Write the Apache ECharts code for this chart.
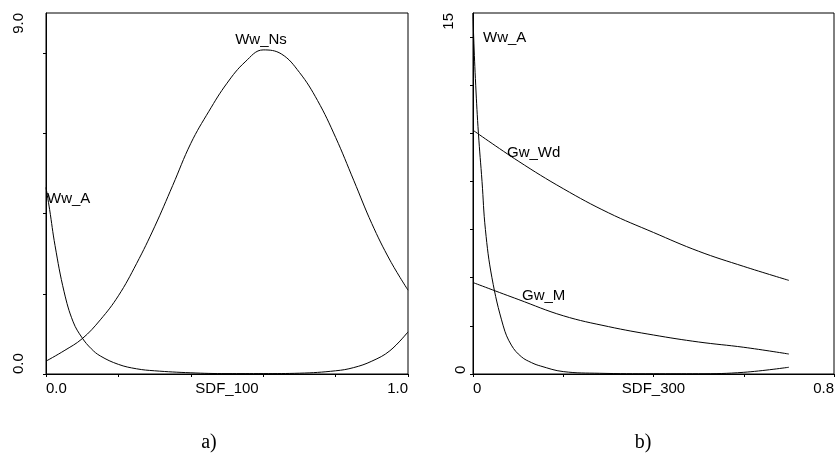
<!DOCTYPE html>
<html>
<head>
<meta charset="utf-8">
<script src="https://cdn.jsdelivr.net/npm/echarts@6/dist/echarts.min.js"></script>
<style>
html,body{margin:0;padding:0;background:#fff;}
#main{width:837px;height:455px;}
</style>
</head>
<body>
<div id="main"></div>
<script>
// ---- Panel a) data (SDF_100) ----
const aWwNsX = [0, 0.05, 0.1, 0.15, 0.2, 0.25, 0.3, 0.35, 0.4, 0.45, 0.5, 0.55, 0.6, 0.65, 0.7, 0.75, 0.8, 0.85, 0.9, 0.95, 1.0];
const aWwNsY = [0.32, 0.58, 0.88, 1.35, 1.95, 2.75, 3.67, 4.7, 5.75, 6.55, 7.25, 7.78, 8.08, 7.98, 7.52, 6.82, 5.9, 4.83, 3.75, 2.84, 2.09];
const aWwAX = [0, 0.01, 0.025, 0.05, 0.075, 0.1, 0.125, 0.15, 0.2, 0.25, 0.3, 0.4, 0.5, 0.6, 0.7, 0.8, 0.85, 0.9, 0.95, 1.0];
const aWwAY = [4.65, 4.1, 3.2, 2.05, 1.3, 0.9, 0.63, 0.45, 0.24, 0.13, 0.08, 0.03, 0.01, 0.01, 0.02, 0.08, 0.16, 0.32, 0.58, 1.05];

// ---- Panel b) data (SDF_300) ----
const bWwAX = [0, 0.0015, 0.006, 0.012, 0.02, 0.0275, 0.042, 0.067, 0.085, 0.107, 0.13, 0.15, 0.2, 0.28, 0.4, 0.5, 0.6, 0.7];
const bWwAY = [15, 14, 12, 10, 8, 6, 4, 2, 1.2, 0.72, 0.47, 0.33, 0.1, 0.03, 0.01, 0.01, 0.07, 0.28];
const bGwX = [0, 0.1, 0.2, 0.3, 0.4, 0.5, 0.6, 0.7];
const bGwWdY = [10.13, 8.85, 7.7, 6.7, 5.88, 5.1, 4.47, 3.89];
const bGwMY = [3.8, 3.1, 2.42, 1.97, 1.62, 1.33, 1.11, 0.83];

// ---- Axis ticks / labels ----
const aXTicks = [0, 0.2, 0.4, 0.6, 0.8, 1.0];
const aXLabelVals = [0, 1.0];
const aXLabelTexts = ['0.0', '1.0'];
const aYTicks = [0, 2, 4, 6, 8];
const aYLabelVals = [0, 9];
const aYLabelTexts = ['0.0', '9.0'];
const bXTicks = [0, 0.2, 0.4, 0.6, 0.8];
const bXLabelVals = [0, 0.8];
const bXLabelTexts = ['0', '0.8'];
const bYTicks = [0, 2, 4, 6, 8, 10, 12, 14];
const bYLabelVals = [0, 15];
const bYLabelTexts = ['0', '15'];
const aXName = 'SDF_100';
const bXName = 'SDF_300';

function pairs(xs, ys) { return xs.map((x, i) => [x, ys[i]]); }
function fmt(vals, texts) {
  return function (v) {
    for (let i = 0; i < vals.length; i++) if (Math.abs(v - vals[i]) < 1e-9) return texts[i];
    return '';
  };
}

const FONT = 'Liberation Sans, Arial, sans-serif';
const axisCommon = {
  axisLine: { show: true, lineStyle: { color: '#000', width: 1 } },
  axisTick: { show: true, length: 3, inside: false, lineStyle: { color: '#000', width: 1 } },
  splitLine: { show: false }
};

function xAxisDef(gi, max, ticks, lv, lt, name) {
  return Object.assign({}, axisCommon, {
    type: 'value', gridIndex: gi, min: 0, max: max, interval: 0.2,
    axisTick: Object.assign({}, axisCommon.axisTick, { customValues: ticks }),
    axisLabel: {
      customValues: lv, formatter: fmt(lv, lt), margin: 7,
      color: '#000', fontFamily: FONT, fontSize: 15,
      alignMinLabel: 'left', alignMaxLabel: 'right'
    },
    name: name, nameLocation: 'middle', nameGap: 7, nameMoveOverlap: false,
    nameTextStyle: { color: '#000', fontFamily: FONT, fontSize: 15, verticalAlign: 'top' }
  });
}
function yAxisDef(gi, max, ticks, lv, lt, margin, rich) {
  return Object.assign({}, axisCommon, {
    type: 'value', gridIndex: gi, min: 0, max: max, interval: 1,
    axisTick: Object.assign({}, axisCommon.axisTick, { customValues: ticks }),
    axisLabel: {
      customValues: lv, formatter: rich ? function (v) {
        const t = fmt(lv, lt)(v);
        return t === lt[1] ? '{p|' + t + '}' : t;
      } : fmt(lv, lt),
      rotate: 90, margin: margin,
      color: '#000', fontFamily: FONT, fontSize: 15,
      alignMinLabel: 'left', alignMaxLabel: 'right',
      rich: rich ? { p: { fontFamily: FONT, fontSize: 15, color: '#000', padding: [0, 0, 12, 0] } } : undefined
    }
  });
}

const lineStyle = { color: '#000', width: 1 };
function lineSeries(xi, data) {
  return {
    type: 'line', xAxisIndex: xi, yAxisIndex: xi, data: data,
    smooth: 0.4, showSymbol: false, symbol: 'none',
    lineStyle: lineStyle, silent: true, animation: false
  };
}

const chart = echarts.init(document.getElementById('main'), null, { renderer: 'canvas' });
chart.setOption({
  backgroundColor: '#fff',
  animation: false,
  grid: [
    { left: 46, top: 13, width: 362, height: 361, show: true, borderColor: '#000', borderWidth: 1, backgroundColor: 'transparent' },
    { left: 473, top: 13, width: 361, height: 361, show: true, borderColor: '#000', borderWidth: 1, backgroundColor: 'transparent' }
  ],
  xAxis: [
    xAxisDef(0, 1.0, aXTicks, aXLabelVals, aXLabelTexts, aXName),
    xAxisDef(1, 0.8, bXTicks, bXLabelVals, bXLabelTexts, bXName)
  ],
  yAxis: [
    yAxisDef(0, 9, aYTicks, aYLabelVals, aYLabelTexts, 20, false),
    yAxisDef(1, 15, bYTicks, bYLabelVals, bYLabelTexts, 5, true)
  ],
  series: [
    lineSeries(0, pairs(aWwNsX, aWwNsY)),
    lineSeries(0, pairs(aWwAX, aWwAY)),
    lineSeries(1, pairs(bWwAX, bWwAY)),
    lineSeries(1, pairs(bGwX, bGwWdY)),
    lineSeries(1, pairs(bGwX, bGwMY))
  ],
  graphic: [
    { type: 'text', x: 261, y: 40, style: { text: 'Ww_Ns', font: '15px ' + FONT, fill: '#000', align: 'center', verticalAlign: 'middle' } },
    { type: 'text', x: 47, y: 199, style: { text: 'Ww_A', font: '15px ' + FONT, fill: '#000', align: 'left', verticalAlign: 'middle' } },
    { type: 'text', x: 483, y: 38, style: { text: 'Ww_A', font: '15px ' + FONT, fill: '#000', align: 'left', verticalAlign: 'middle' } },
    { type: 'text', x: 507, y: 153, style: { text: 'Gw_Wd', font: '15px ' + FONT, fill: '#000', align: 'left', verticalAlign: 'middle' } },
    { type: 'text', x: 522, y: 296, style: { text: 'Gw_M', font: '15px ' + FONT, fill: '#000', align: 'left', verticalAlign: 'middle' } },
    { type: 'text', x: 209, y: 443, style: { text: 'a)', font: '20px "Liberation Serif", "Times New Roman", serif', fill: '#000', align: 'center', verticalAlign: 'middle' } },
    { type: 'text', x: 643, y: 443, style: { text: 'b)', font: '20px "Liberation Serif", "Times New Roman", serif', fill: '#000', align: 'center', verticalAlign: 'middle' } }
  ]
});
</script>
</body>
</html>
